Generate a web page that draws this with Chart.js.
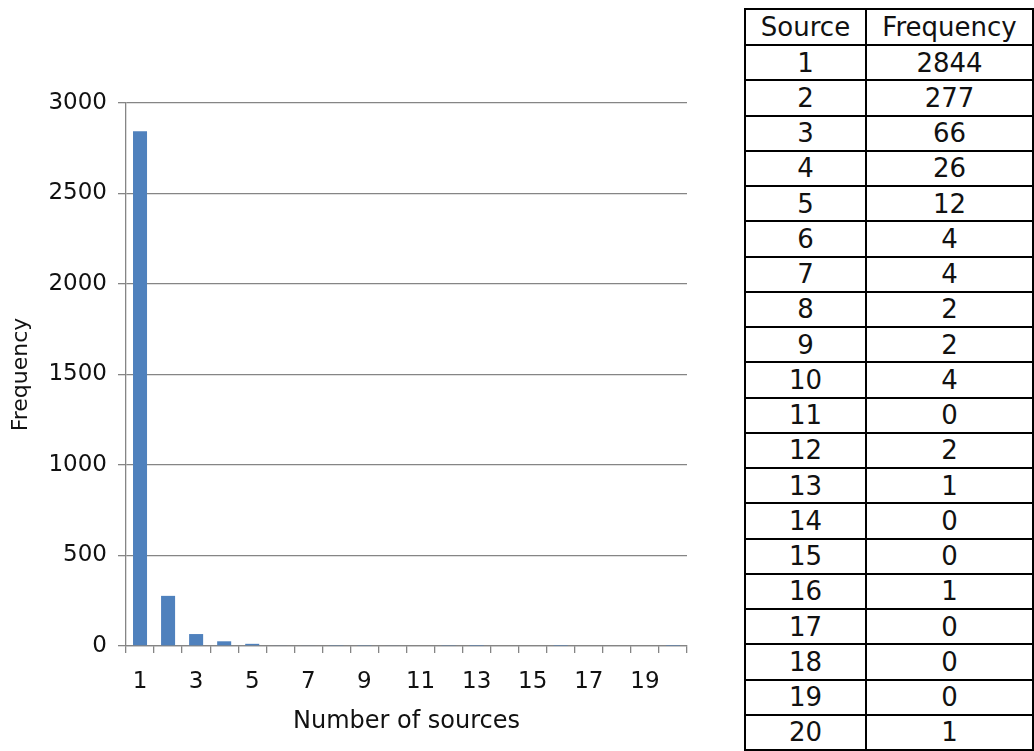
<!DOCTYPE html>
<html>
<head>
<meta charset="utf-8">
<script src="https://cdn.jsdelivr.net/npm/chart.js@4/dist/chart.umd.min.js"></script>
<style>
  html, body { margin: 0; padding: 0; background: #fff; width: 1034px; height: 751px; overflow: hidden; }
  #wrap { position: absolute; left: 0; top: 0; width: 745px; height: 751px; }
  #tbl {
    position: absolute; left: 744px; top: 8px;
    display: grid; background: #000; padding: 2px; gap: 2px;
    grid-template-columns: 119px 165px;
    grid-auto-rows: 33.25px;
    grid-template-rows: 34px;
    font-family: "DejaVu Sans", Verdana, sans-serif; font-size: 26px; color: #111;
  }
  #tbl div { background: #fff; display: flex; align-items: center; justify-content: center; line-height: 1; }
</style>
</head>
<body>
<div id="wrap"><canvas id="c" width="745" height="751"></canvas></div>
<div id="tbl"></div>
<script>
const categories = ["1","2","3","4","5","6","7","8","9","10","11","12","13","14","15","16","17","18","19","20"];
const frequency = [2844, 277, 66, 26, 12, 4, 4, 2, 2, 4, 0, 2, 1, 0, 0, 1, 0, 0, 0, 1];
const yTicks = [0, 500, 1000, 1500, 2000, 2500, 3000];
const tableHeader = ["Source", "Frequency"];
const xTitle = "Number of sources";
const yTitle = "Frequency";

// table
const tbl = document.getElementById('tbl');
tableHeader.forEach(h => { const d = document.createElement('div'); d.textContent = h; tbl.appendChild(d); });
categories.forEach((c, i) => {
  const a = document.createElement('div'); a.textContent = c; tbl.appendChild(a);
  const b = document.createElement('div'); b.textContent = String(frequency[i]); tbl.appendChild(b);
});

const FONT = "'DejaVu Sans', Verdana, sans-serif";
const GRID = '#858585';
new Chart(document.getElementById('c'), {
  type: 'bar',
  data: {
    labels: categories,
    datasets: [{ data: frequency, backgroundColor: '#4F81BD', borderWidth: 0,
      barPercentage: 0.5, categoryPercentage: 1.0 }]
  },
  options: {
    responsive: false, animation: false,
    layout: { padding: { top: 103, right: 58, left: 0, bottom: 0 } },
    plugins: { legend: { display: false }, tooltip: { enabled: false } },
    scales: {
      x: {
        offset: true,
        grid: { display: true, offset: true, drawOnChartArea: false, drawTicks: true, tickLength: 7, color: GRID, lineWidth: 1.3 },
        border: { display: true, color: GRID, width: 1.3 },
        ticks: { autoSkip: false, maxRotation: 0, color: '#111', padding: 15,
          font: { family: FONT, size: 23 },
          callback: function(v, i) { return i % 2 === 0 ? categories[i] : ''; } },
        title: { display: true, text: xTitle, color: '#111', font: { family: FONT, size: 24 }, padding: { top: 0, bottom: 15 } },
        afterFit: s => { s.height = 105; }
      },
      y: {
        min: 0, max: 3000,
        afterBuildTicks: s => { s.ticks = yTicks.map(v => ({ value: v })); },
        grid: { color: GRID, lineWidth: 1.3, drawTicks: true, tickLength: 8 },
        border: { display: true, color: GRID, width: 1.3 },
        ticks: { color: '#111', padding: 11, font: { family: FONT, size: 23 },
          callback: v => String(v) },
        title: { display: true, text: yTitle, color: '#111', font: { family: FONT, size: 22 }, padding: { top: 8, bottom: 0 } },
        afterFit: s => { s.width = 126; }
      }
    }
  }
});
</script>
</body>
</html>
